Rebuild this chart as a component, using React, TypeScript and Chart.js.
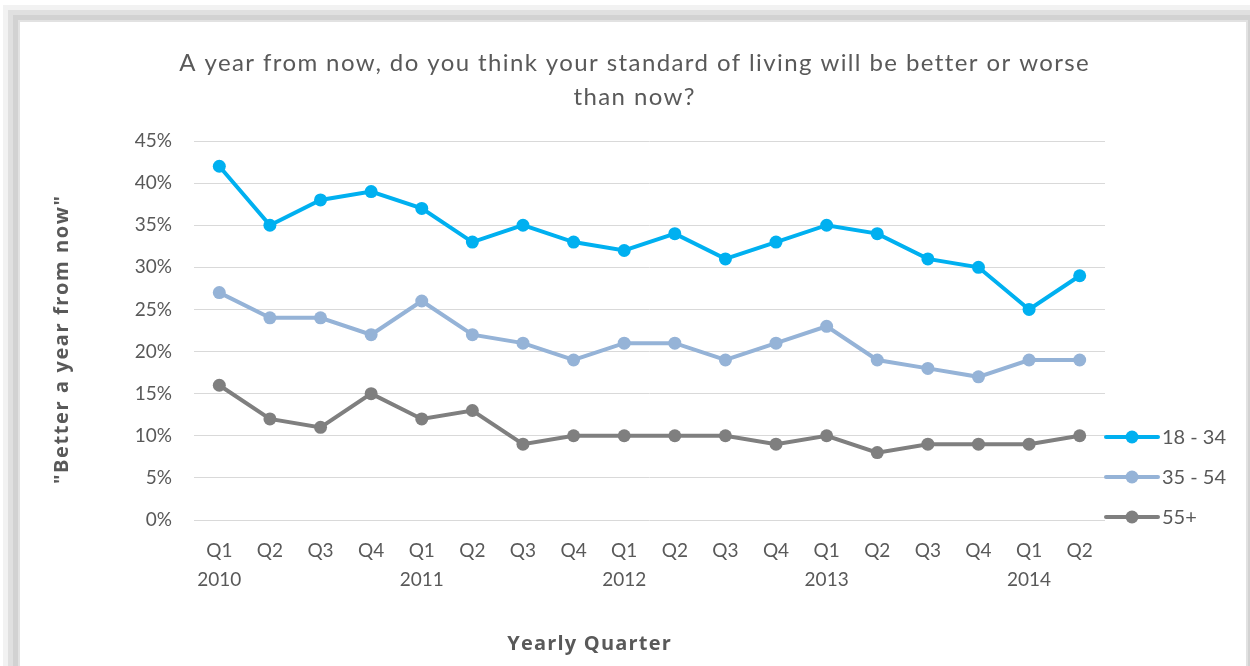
import React, { useEffect, useRef } from "react";
import { Chart, registerables } from "chart.js";

Chart.register(...registerables);

const quarters = ["Q1", "Q2", "Q3", "Q4", "Q1", "Q2", "Q3", "Q4", "Q1", "Q2", "Q3", "Q4", "Q1", "Q2", "Q3", "Q4", "Q1", "Q2"];
const years = ["2010", "", "", "", "2011", "", "", "", "2012", "", "", "", "2013", "", "", "", "2014", ""];
const age18to34 = [42, 35, 38, 39, 37, 33, 35, 33, 32, 34, 31, 33, 35, 34, 31, 30, 25, 29];
const age35to54 = [27, 24, 24, 22, 26, 22, 21, 19, 21, 21, 19, 21, 23, 19, 18, 17, 19, 19];
const age55plus = [16, 12, 11, 15, 12, 13, 9, 10, 10, 10, 10, 9, 10, 8, 9, 9, 9, 10];
const seriesNames = ["18 - 34", "35 - 54", "55+"];
const seriesColors = ["#00B0F0", "#95B3D7", "#7F7F7F"];
const titleLines = ["A year from now, do you think your standard of living will be better or worse", "than now?"];
const yTitle = "\"Better a year from now\"";
const xTitle = "Yearly Quarter";

const FONT = "Lato, 'Open Sans', sans-serif";
const TFONT = "'Open Sans', Lato, sans-serif";
const TEXT = "#595959";

function spacedText(ctx: any, text: string, x: number, y: number, spacing: number) {
  ctx.letterSpacing = spacing + "px";
  ctx.fillText(text, x + spacing / 2, y);
  ctx.letterSpacing = "0px";
}

export default function App() {
  const ref = useRef<HTMLCanvasElement>(null);
  useEffect(() => {
    document.body.style.margin = "0";
    const canvas = ref.current!;
    const overlay = {
      id: "overlay",
      afterDraw(chart: any) {
        const ctx = chart.ctx;
        const ca = chart.chartArea;
        ctx.save();
        ctx.fillStyle = TEXT;
        ctx.textAlign = "center";
        ctx.textBaseline = "middle";
        ctx.font = `24px ${FONT}`;
        spacedText(ctx, titleLines[0], 634, 63, 1.4);
        spacedText(ctx, titleLines[1], 634, 97, 1.4);
        ctx.font = `bold 20px ${TFONT}`;
        spacedText(ctx, xTitle, 589, 644, 1.2);
        ctx.save();
        ctx.translate(62, 340);
        ctx.rotate(-Math.PI / 2);
        spacedText(ctx, yTitle, 0, 0, 1.6);
        ctx.restore();
        // legend
        ctx.textAlign = "left";
        ctx.font = `20px ${FONT}`;
        const ys = [437, 477, 517];
        seriesNames.forEach((n, i) => {
          const y = ys[i];
          ctx.strokeStyle = seriesColors[i];
          ctx.lineWidth = 4;
          ctx.lineCap = "round";
          ctx.beginPath();
          ctx.moveTo(ca.right + 1, y);
          ctx.lineTo(ca.right + 53, y);
          ctx.stroke();
          ctx.fillStyle = seriesColors[i];
          ctx.beginPath();
          ctx.arc(ca.right + 27, y, 6.5, 0, Math.PI * 2);
          ctx.fill();
          ctx.fillStyle = TEXT;
          ctx.fillText(n, ca.right + 57, y + 1);
        });
        ctx.restore();
      },
    };
    const mk = (label: string, data: number[], color: string) => ({
      label,
      data,
      borderColor: color,
      backgroundColor: color,
      borderWidth: 4,
      pointRadius: 6.5,
      pointBorderWidth: 0,
      pointBackgroundColor: color,
      tension: 0,
    });
    const chart = new Chart(canvas, {
      type: "line",
      data: {
        labels: quarters.map((q, i) => [q, years[i]]),
        datasets: [
          mk(seriesNames[0], age18to34, seriesColors[0]),
          mk(seriesNames[1], age35to54, seriesColors[1]),
          mk(seriesNames[2], age55plus, seriesColors[2]),
        ],
      },
      options: {
        animation: false,
        responsive: false,
        layout: { padding: { left: 0, right: 145, top: 141, bottom: 0 } },
        plugins: { legend: { display: false }, title: { display: false }, tooltip: { enabled: false } },
        scales: {
          x: {
            offset: true,
            grid: { display: false, drawTicks: false },
            border: { display: false },
            ticks: { color: TEXT, font: { family: FONT, size: 19, lineHeight: 1.5 }, padding: 17, maxRotation: 0, autoSkip: false },
            afterFit: (s: any) => { s.height = 146; },
          },
          y: {
            min: 0,
            max: 45,
            grid: { color: "#D9D9D9", lineWidth: 1, drawTicks: false },
            border: { display: false },
            ticks: { stepSize: 5, color: TEXT, font: { family: FONT, size: 19 }, padding: 22, callback: (v: any) => v + "%" },
            afterFit: (s: any) => { s.width = 194; },
          },
        },
      },
      plugins: [overlay],
    } as any);
    return () => chart.destroy();
  }, []);
  return (
    <div style={{ position: "relative", width: 1250, height: 666, overflow: "hidden", background: "#fff" }}>
      <div
        style={{
          position: "absolute",
          left: 20,
          top: 22,
          width: 1226,
          height: 700,
          background: "#fff",
          boxShadow: "0 0 0 2px #e2e2e2, 0 0 0 7px #d2d2d2, 0 0 0 12px #e0e0e0, 0 0 0 17px #f2f2f2",
        }}
      />
      <canvas ref={ref} width={1250} height={666} style={{ position: "absolute", left: 0, top: 0 }} />
    </div>
  );
}
